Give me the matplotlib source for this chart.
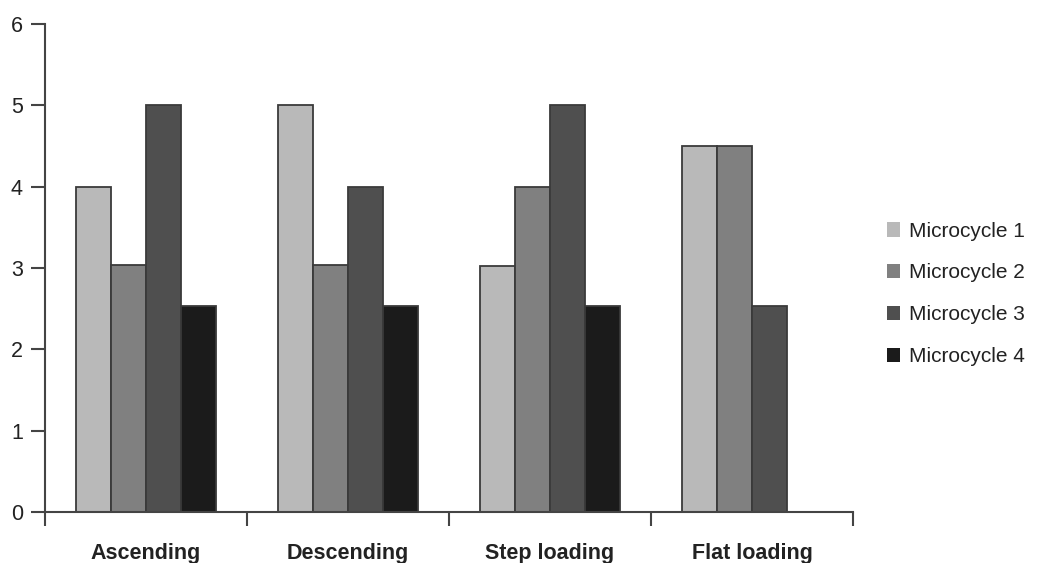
import matplotlib.pyplot as plt
import numpy as np
from matplotlib.patches import Patch

categories = ["Ascending", "Descending", "Step loading", "Flat loading"]
series_labels = ["Microcycle 1", "Microcycle 2", "Microcycle 3", "Microcycle 4"]
micro1 = [4.0, 5.0, 3.02, 4.5]
micro2 = [3.04, 3.04, 4.0, 4.5]
micro3 = [5.0, 4.0, 5.0, 2.53]
micro4 = [2.53, 2.53, 2.53, 0.0]
yticks = [0, 1, 2, 3, 4, 5, 6]

colors = ["#b9b9b9", "#808080", "#4f4f4f", "#1b1b1b"]
edge = "#3a3a3a"
plt.rcParams["font.family"] = ["Liberation Sans", "DejaVu Sans"]

fig = plt.figure(figsize=(10.38, 5.63), dpi=100)
ax = fig.add_axes([45 / 1038, 1 - 512 / 563, (853 - 45) / 1038, (512 - 24) / 563])

x = np.arange(len(categories)) + 0.5
width = 0.173
for i, vals in enumerate([micro1, micro2, micro3, micro4]):
    pos = x + (i - 1.5) * width
    vals = np.array(vals)
    keep = vals > 0
    ax.bar(pos[keep], vals[keep], width=width, color=colors[i],
           edgecolor=edge, linewidth=1.3, zorder=2)

ax.set_xlim(0, 4)
ax.set_ylim(0, 6)
ax.spines["right"].set_visible(False)
ax.spines["top"].set_visible(False)
for s in ["left", "bottom"]:
    ax.spines[s].set_color("#444444")
    ax.spines[s].set_linewidth(1.5)

ax.set_yticks(yticks)
ax.set_yticklabels([str(v) for v in yticks], fontsize=15.5, color="#222222")
ax.tick_params(axis="y", length=10, width=1.5, color="#444444", pad=6)

ax.set_xticks([0, 1, 2, 3, 4])
ax.set_xticklabels([])
ax.tick_params(axis="x", length=10, width=1.5, color="#444444")
ax.set_xticks(x, minor=True)
ax.set_xticklabels(categories, minor=True, fontsize=15.5, fontweight="bold", color="#222222")
ax.tick_params(axis="x", which="minor", length=0, pad=22)

handles = [Patch(facecolor=c, edgecolor="none") for c in colors]
fig.legend(handles, series_labels, loc="center left", bbox_to_anchor=(0.836, 0.478),
           frameon=False, fontsize=15, handlelength=0.65, handleheight=0.7,
           handletextpad=0.45, labelspacing=1.1, labelcolor="#222222")

fig.savefig("out.png", dpi=100)
